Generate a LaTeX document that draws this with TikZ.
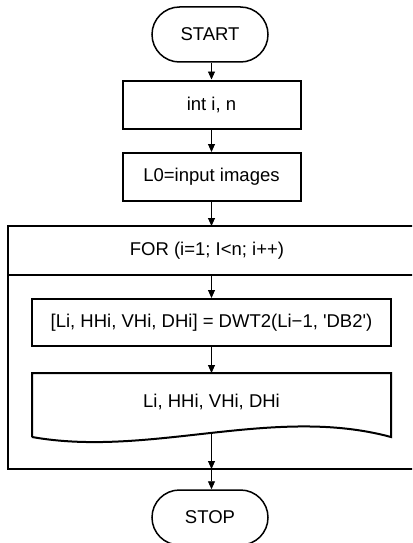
\documentclass[tikz,border=0pt]{standalone}
\usepackage{fontspec}
\setmainfont{Liberation Sans}
\usetikzlibrary{shapes.misc,arrows.meta}
\begin{document}
\begin{tikzpicture}[x=1pt,y=-1pt,
  every node/.style={font=\fontsize{18.5}{21}\selectfont, inner sep=0pt},
  term/.style={rounded rectangle, draw, line width=1.5pt, minimum width=116pt, minimum height=55pt},
  procbox/.style={rectangle, draw, line width=2pt, minimum height=48pt},
  boxline/.style={line width=2pt},
  arr/.style={line width=0.9pt, -{Triangle[length=8pt,width=7pt]}},
  plain/.style={line width=0.9pt}]
\clip (0,0) rectangle (412,543);
% outer FOR frame (right edge outside the picture)
\draw[boxline] (420,226) -- (8,226) -- (8,469) -- (420,469);
\draw[boxline] (8,275) -- (420,275);
\coordinate (ftop) at (211.5,226);
\coordinate (fhdr) at (211.5,275);
\coordinate (fbot) at (211.5,469);
\node (forlbl) at (207,250.5) {FOR (i=1; I<n; i++)};
% nodes
\node[term] (start) at (210,34.5) {START};
\node[procbox, minimum width=178pt] (int) at (211.5,104.5) {int i, n};
\node[procbox, minimum width=178pt] (l0) at (211.5,177) {L0=input images};
\node[procbox, minimum width=359pt, minimum height=47pt] (dwt) at (211.5,322.5) {[Li, HHi, VHi, DHi] = DWT2(Li−1, \textquotesingle DB2\textquotesingle)};
% document shape
\draw[boxline] (32,437) -- (32,373) -- (391,373) -- (391,437)
  .. controls (273,405) and (150,458) .. (32,437);
\path (32,437) .. controls (150,458) and (273,405) .. coordinate[pos=0.5] (wave) (391,437);
\coordinate (doctop) at (211.5,373);
\node (doc) at (211.5,402) {Li, HHi, VHi, DHi};
\node[term] (stop) at (210,517.5) {STOP};
% connectors
\draw[arr] (start.south -| ftop) -- (int.north -| ftop);
\draw[arr] (int.south -| ftop) -- (l0.north -| ftop);
\draw[arr] (l0.south -| ftop) -- (ftop);
\draw[arr] (fhdr) -- (dwt.north);
\draw[arr] (dwt.south) -- (doctop);
\draw[arr] (wave) -- (fbot);
\draw[arr] (fbot) -- (stop.north -| fbot);
\end{tikzpicture}
\end{document}
